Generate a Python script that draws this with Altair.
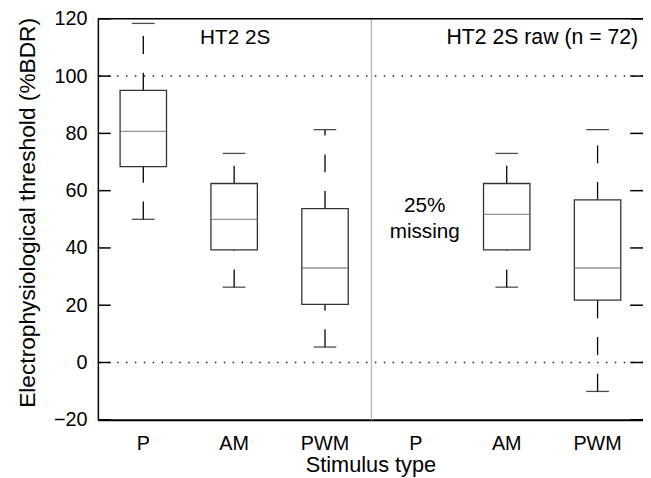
import altair as alt
import pandas as pd

# ---- data ----
categories = ["L-P", "L-AM", "L-PWM", "R-P", "R-AM", "R-PWM"]
box_groups = ["L-P", "L-AM", "L-PWM", "R-AM", "R-PWM"]
whisker_low = [50.0, 26.3, 5.4, 26.3, -10.1]
quart_low = [68.4, 39.3, 20.3, 39.3, 21.8]
medians = [80.7, 50.0, 33.0, 51.7, 33.0]
quart_high = [95.0, 62.5, 53.7, 62.5, 56.8]
whisker_high = [118.4, 73.0, 81.3, 73.0, 81.3]
y_ticks = [-20, 0, 20, 40, 60, 80, 100, 120]
ref_lines = [0, 100]
left_title = ["HT2 2S"]
right_title = ["HT2 2S raw (n = 72)"]
missing_pct = ["25%"]
missing_word = ["missing"]

df = pd.DataFrame({
    "g": box_groups, "lo": whisker_low, "q1": quart_low,
    "med": medians, "q3": quart_high, "hi": whisker_high,
})

W, H = 552, 406
FONT = "Liberation Sans"

xscale = alt.Scale(domain=categories, paddingInner=0, paddingOuter=0)
yscale = alt.Scale(domain=[-20, 120], nice=False, zero=False)

xaxis = alt.Axis(title="Stimulus type", labelExpr="split(datum.value, '-')[1]",
                 ticks=False, grid=False, domainColor="black", domainWidth=2,
                 labelFont=FONT, labelFontSize=20, labelColor="black", labelAngle=0,
                 labelPadding=14, titleFont=FONT, titleFontSize=22, titleColor="black",
                 titleFontWeight="normal", titlePadding=1)
yaxis = alt.Axis(title="Electrophysiological threshold (%BDR)", values=y_ticks,
                 ticks=False, grid=False, domainColor="black", domainWidth=1.5,
                 labelFont=FONT, labelFontSize=20, labelColor="black", labelPadding=11,
                 titleFont=FONT, titleFontSize=23, titleColor="black",
                 titleFontWeight="normal", titleX=-71, titleY=196, titleAngle=270,
                 titleAlign="center", titleBaseline="middle")

X = alt.X("g:N", scale=xscale, axis=xaxis)


def Y(field):
    return alt.Y(field, type="quantitative", scale=yscale, axis=yaxis)


base = alt.Chart(df)

refs = alt.Chart(pd.DataFrame({"v": ref_lines})).mark_rule(
    strokeDash=[1.5, 7.5], color="#222", strokeWidth=1.5).encode(y=Y("v"))

sep = alt.Chart(pd.DataFrame({"v": [0]})).mark_rule(color="#bbbbbb", strokeWidth=1.5).encode(
    x=alt.value(W / 2 + 1), y=alt.value(0), y2=alt.value(H))

wl = base.mark_rule(strokeDash=[18, 19], color="black", strokeWidth=1.3).encode(
    x=X, y=Y("lo"), y2="q1")
wh = base.mark_rule(strokeDash=[18, 19], color="black", strokeWidth=1.3).encode(
    x=X, y=Y("q3"), y2="hi")
box = base.mark_bar(size=47, fill="white", stroke="#333", strokeWidth=1.3).encode(
    x=X, y=Y("q1"), y2="q3")
med = base.mark_tick(size=47, thickness=1.3, color="#666").encode(x=X, y=Y("med"))
cap_lo = base.mark_tick(size=23, thickness=1.3, color="black").encode(x=X, y=Y("lo"))
cap_hi = base.mark_tick(size=23, thickness=1.3, color="black").encode(x=X, y=Y("hi"))

tick_df = pd.DataFrame({"v": y_ticks})
lticks = alt.Chart(tick_df).mark_rule(color="black", strokeWidth=1.5).encode(
    y=Y("v"), x=alt.value(0), x2=alt.value(13))
rticks = alt.Chart(tick_df).mark_rule(color="black", strokeWidth=1.5).encode(
    y=Y("v"), x=alt.value(W - 13), x2=alt.value(W))
top = alt.Chart(pd.DataFrame({"v": [0]})).mark_rule(color="black", strokeWidth=1.5).encode(
    y=alt.value(0), x=alt.value(0), x2=alt.value(W))


def label(texts, x, y, align="center", size=21):
    return alt.Chart(pd.DataFrame({"t": texts})).mark_text(
        font=FONT, fontSize=size, color="black", align=align, baseline="middle").encode(
        text="t", x=alt.value(x), y=alt.value(y))


t1 = label(left_title, 139, 19)
t2 = label(right_title, 353, 19, align="left", size=21.5)
t3 = label(missing_pct, 331, 190)
t4 = label(missing_word, 331, 216)

chart = alt.layer(
    refs, sep, wl, wh, box, med, cap_lo, cap_hi, lticks, rticks, top, t1, t2, t3, t4
).properties(
    width=W, height=H,
    padding={"left": 91, "top": 8, "right": 0, "bottom": 56},
    autosize=alt.AutoSizeParams(type="none"),
).configure_view(stroke=None)

chart.save("out.html", embed_options={"renderer": "svg", "actions": False})
